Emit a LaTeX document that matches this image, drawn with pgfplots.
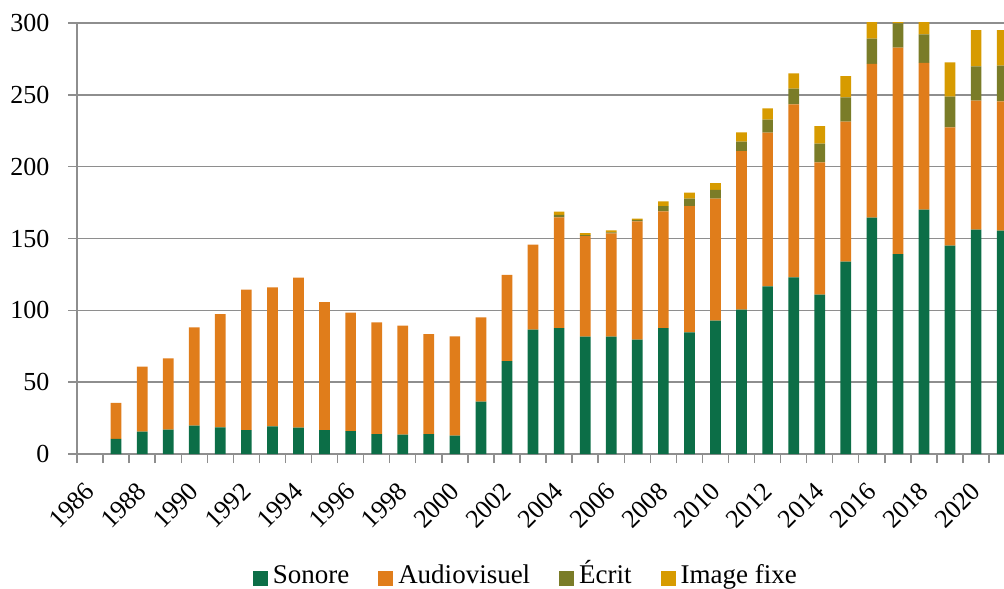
\documentclass[border=0pt]{standalone}
\usepackage{fontspec}
\setmainfont{Liberation Serif}
\usepackage{pgfplots}
\pgfplotsset{compat=1.18}
\usepackage{pgfplotstable}
\definecolor{cson}{HTML}{0C6E47}
\definecolor{caud}{HTML}{E07D1B}
\definecolor{cecr}{HTML}{7A7C28}
\definecolor{cimg}{HTML}{D79B00}
\definecolor{cgrid}{HTML}{8E8E8E}
\pgfplotstableread{
year son aud ecr img
1987 10.6 24.9 0 0
1988 15.5 45.3 0 0
1989 16.9 49.7 0 0
1990 19.7 68.5 0 0
1991 18.6 78.8 0 0
1992 16.7 97.7 0 0
1993 19.3 96.7 0 0
1994 18.3 104.4 0 0
1995 16.7 89.1 0 0
1996 16.0 82.4 0 0
1997 13.9 77.8 0 0
1998 13.5 75.8 0 0
1999 13.9 69.6 0 0
2000 12.8 69.1 0 0
2001 36.4 58.7 0 0
2002 64.7 59.9 0 0
2003 86.5 59.2 0 0
2004 87.7 77.0 1.7 2.3
2005 81.7 70.0 0.7 1.4
2006 81.7 71.9 0.7 1.4
2007 79.6 82.4 0.9 0.9
2008 87.7 81.2 3.7 3.3
2009 84.7 87.9 5.1 4.2
2010 92.8 84.9 6.1 4.8
2011 100.5 110.4 6.5 6.5
2012 116.7 107.0 9.0 7.9
2013 123.0 120.4 10.9 10.7
2014 110.9 92.1 13.0 12.3
2015 133.9 97.4 17.0 14.8
2016 164.5 107.0 17.6 12.0
2017 139.2 143.6 17.0 10.0
2018 170.1 102.1 19.9 10.0
2019 145.0 82.4 21.3 23.9
2020 156.1 89.8 23.9 25.3
2021 155.4 90.1 24.8 24.8
}\data
\begin{document}
\begin{tikzpicture}
\useasboundingbox (-77pt,-135pt) rectangle (927pt,454pt);
\begin{axis}[
  at={(0pt,0pt)}, anchor=south west,
  scale only axis, width=927pt, height=431pt,
  ybar stacked, bar width=10.7pt,
  xmin=1985.5, xmax=2021.07, ymin=0, ymax=300,
  axis x line*=bottom, axis y line*=left,
  axis line style={-, cgrid, line width=1.4pt},
  ytick={0,50,...,300},
  xtick={1986,1988,...,2020},
  minor xtick={1985.5,1986.5,...,2021.5},
  ymajorgrids, grid style={cgrid, line width=1.4pt},
  tick align=outside, major tick length=9pt, minor tick length=9pt,
  tick style={cgrid, line width=1.4pt},
  every major x tick/.append style={draw=none},
  /pgf/number format/1000 sep={},
  /pgf/number format/assume math mode=true,
  tick label style={font=\fontsize{26}{31}\selectfont},
  xticklabel style={yshift=-24pt, rotate=45, anchor=east, inner sep=0pt},
  yticklabel style={xshift=-15pt},
  legend columns=-1,
  legend style={at={(0.4858,-0.3165)}, anchor=south, draw=none, fill=none,
    font=\fontsize{27}{32}\selectfont,
    nodes={text height=0.95em, text depth=0.25em, inner xsep=5pt},
    /tikz/every even column/.append style={column sep=24pt}},
]
\addplot[fill=cson, draw=none, legend image code/.code={\fill[cson] (0pt,-6pt) rectangle (15pt,9pt);}] table[x=year,y=son]{\data};
\addplot[fill=caud, draw=none, legend image code/.code={\fill[caud] (0pt,-6pt) rectangle (15pt,9pt);}] table[x=year,y=aud]{\data};
\addplot[fill=cecr, draw=none, legend image code/.code={\fill[cecr] (0pt,-6pt) rectangle (15pt,9pt);}] table[x=year,y=ecr]{\data};
\addplot[fill=cimg, draw=none, legend image code/.code={\fill[cimg] (0pt,-6pt) rectangle (15pt,9pt);}] table[x=year,y=img]{\data};
\legend{Sonore, Audiovisuel, Écrit, Image fixe}
\end{axis}
\end{tikzpicture}
\end{document}
